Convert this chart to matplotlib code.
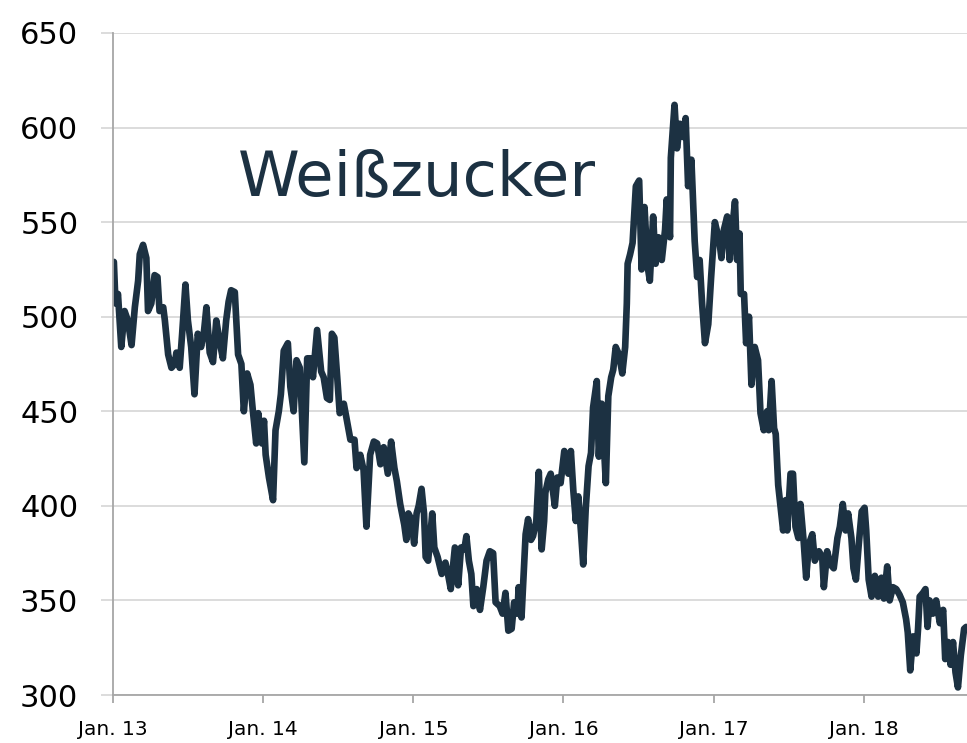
import pandas as pd
import matplotlib
matplotlib.use("Agg")
import matplotlib.pyplot as plt

# Weißzucker price (MM-DD per year)
dates_2013 = ["01-03", "01-07", "01-13", "01-21", "01-29", "02-06", "02-15", "02-23",
              "03-03", "03-07", "03-15", "03-23", "03-27", "04-04", "04-12", "04-19",
              "04-24", "05-03", "05-07", "05-15", "05-23", "05-31", "06-04", "06-12",
              "06-18", "06-26", "07-02", "07-10", "07-18", "07-26", "08-03", "08-10",
              "08-16", "08-24", "09-01", "09-09", "09-17", "09-25", "10-03", "10-09",
              "10-15", "10-24", "11-01", "11-09", "11-15", "11-23", "12-01", "12-07",
              "12-15", "12-20", "12-25", "12-29"]
price_2013 = [529, 507, 512, 484, 503, 498, 485, 505,
              519, 533, 538, 531, 503, 507, 522, 521,
              503, 505, 498, 480, 473, 475, 481, 473,
              491, 517, 498, 484, 459, 491, 484, 492,
              505, 481, 476, 498, 487, 478, 498, 508,
              514, 513, 480, 475, 450, 470, 464, 450,
              433, 449, 440, 433]

dates_2014 = ["01-03", "01-07", "01-15", "01-25", "01-31", "02-08", "02-13", "02-20",
              "03-02", "03-08", "03-16", "03-23", "03-31", "04-05", "04-11", "04-18",
              "04-26", "05-02", "05-12", "05-22", "05-28", "06-05", "06-12", "06-17",
              "06-23", "06-30", "07-06", "07-16", "07-22", "08-01", "08-11", "08-16",
              "08-25", "09-02", "09-09", "09-18", "09-27", "10-05", "10-13", "10-21",
              "10-31", "11-08", "11-16", "11-22", "11-30", "12-10", "12-15", "12-20",
              "12-27"]
price_2014 = [445, 427, 415, 403, 440, 450, 459, 482,
              486, 463, 450, 477, 473, 450, 423, 478,
              478, 468, 493, 471, 468, 457, 456, 491,
              489, 468, 449, 454, 447, 435, 435, 420,
              427, 419, 389, 427, 434, 433, 422, 431,
              417, 434, 420, 413, 401, 390, 382, 396,
              393]

dates_2015 = ["01-03", "01-09", "01-14", "01-21", "01-27", "01-31", "02-06", "02-16",
              "02-21", "03-01", "03-11", "03-20", "03-27", "04-02", "04-12", "04-20",
              "04-27", "05-05", "05-10", "05-16", "05-22", "05-27", "06-04", "06-12",
              "06-20", "06-28", "07-06", "07-14", "07-20", "07-30", "08-06", "08-13",
              "08-20", "08-28", "09-03", "09-11", "09-14", "09-21", "09-25", "10-01",
              "10-07", "10-14", "10-19", "10-27", "11-02", "11-09", "11-15", "11-18",
              "11-25", "12-01", "12-11", "12-17", "12-25"]
price_2015 = [380, 396, 400, 409, 396, 373, 371, 396,
              378, 373, 364, 370, 363, 356, 378, 358,
              378, 377, 384, 371, 364, 347, 356, 345,
              357, 371, 376, 375, 349, 347, 343, 354,
              334, 335, 349, 343, 357, 341, 359, 385,
              393, 382, 384, 392, 418, 377, 392, 407,
              414, 417, 400, 415, 412]

dates_2016 = ["01-03", "01-13", "01-19", "01-25", "01-31", "02-06", "02-13", "02-18",
              "02-24", "03-02", "03-08", "03-13", "03-22", "03-27", "04-03", "04-13",
              "04-19", "04-26", "05-01", "05-07", "05-15", "05-23", "05-30", "06-03",
              "06-05", "06-11", "06-17", "06-25", "07-03", "07-09", "07-16", "07-24",
              "07-29", "08-06", "08-12", "08-19", "08-27", "09-04", "09-08", "09-16",
              "09-18", "09-27", "10-03", "10-10", "10-18", "10-24", "10-30", "11-07",
              "11-15", "11-21", "11-27", "12-03", "12-10", "12-18", "12-25"]
price_2016 = [429, 417, 429, 408, 392, 405, 385, 369,
              398, 421, 428, 452, 466, 426, 454, 412,
              458, 468, 472, 484, 480, 470, 484, 507,
              528, 533, 539, 569, 572, 525, 558, 526,
              519, 553, 528, 542, 530, 546, 562, 542,
              584, 612, 589, 602, 595, 605, 569, 583,
              540, 521, 530, 507, 486, 496, 521]

dates_2017 = ["01-03", "01-14", "01-19", "01-25", "02-02", "02-08", "02-14", "02-21",
              "02-26", "03-04", "03-07", "03-15", "03-20", "03-27", "04-02", "04-10",
              "04-18", "04-24", "05-02", "05-10", "05-14", "05-21", "05-27", "05-31",
              "06-06", "06-12", "06-18", "06-24", "06-28", "07-06", "07-12", "07-18",
              "07-25", "07-30", "08-07", "08-13", "08-20", "08-28", "09-03", "09-13",
              "09-21", "09-25", "10-03", "10-11", "10-19", "10-28", "11-03", "11-10",
              "11-17", "11-23", "12-01", "12-06", "12-12", "12-19", "12-26"]
price_2017 = [550, 540, 531, 546, 553, 530, 546, 561,
              530, 544, 512, 512, 486, 500, 464, 484,
              477, 449, 440, 450, 440, 466, 441, 438,
              411, 399, 387, 403, 387, 417, 417, 389,
              383, 401, 381, 362, 380, 385, 371, 376,
              373, 357, 376, 369, 367, 383, 389, 401,
              387, 396, 383, 367, 361, 380, 397]

dates_2018 = ["01-02", "01-06", "01-12", "01-19", "01-27", "02-04", "02-12", "02-18",
              "02-26", "03-04", "03-12", "03-20", "03-28", "04-05", "04-13", "04-17",
              "04-23", "04-30", "05-08", "05-12", "05-16", "05-24", "05-30", "06-04",
              "06-09", "06-17", "06-25", "07-04", "07-12", "07-17", "07-24", "07-30",
              "08-05", "08-11", "08-17", "08-24", "09-01", "09-06"]
price_2018 = [399, 387, 361, 352, 363, 352, 362, 351,
              368, 350, 357, 356, 353, 349, 340, 333,
              313, 331, 322, 335, 352, 354, 356, 336,
              350, 343, 350, 338, 345, 319, 328, 316,
              328, 312, 304, 321, 335, 336]

years = [2013, 2014, 2015, 2016, 2017, 2018]
year_dates = [dates_2013, dates_2014, dates_2015, dates_2016, dates_2017, dates_2018]
year_prices = [price_2013, price_2014, price_2015, price_2016, price_2017, price_2018]

tick_labels = ["Jan. 13", "Jan. 14", "Jan. 15", "Jan. 16", "Jan. 17", "Jan. 18"]
y_ticks = [300, 350, 400, 450, 500, 550, 600, 650]
title = "Weißzucker"

dates = []
prices = []
for y, ds, ps in zip(years, year_dates, year_prices):
    dates += [pd.Timestamp(f"{y}-{d}") for d in ds]
    prices += ps
s = pd.Series(prices, index=pd.DatetimeIndex(dates))

navy = "#1c3142"

fig = plt.figure(figsize=(9.67, 7.43), dpi=100)
ax = fig.add_axes([0.1169, 0.0646, 0.8831, 0.891])

ax.plot(s.index, s.values, color=navy, lw=4.8, solid_joinstyle="round",
        solid_capstyle="round")

ax.set_xlim(pd.Timestamp("2013-01-01"), pd.Timestamp("2018-09-08"))
ax.set_ylim(300, 650)

ax.set_xticks([pd.Timestamp(f"{y}-01-01") for y in years])
ax.set_xticklabels(tick_labels)
ax.set_yticks(y_ticks)

ax.grid(axis="y", color="#d9d9d9", lw=1.3)
ax.set_axisbelow(True)

for side in ["top", "right"]:
    ax.spines[side].set_visible(False)
for side in ["left", "bottom"]:
    ax.spines[side].set_color("#a6a6a6")
    ax.spines[side].set_linewidth(1.3)

ax.tick_params(axis="y", length=9, width=1.3, color="#d9d9d9", pad=16,
               labelsize=22, labelcolor="black")
ax.tick_params(axis="x", length=6, width=1.3, color="#a6a6a6", pad=12,
               labelsize=14.5, labelcolor="black")

ax.text(0.146, 0.78, title, transform=ax.transAxes, fontsize=45,
        color=navy, ha="left", va="center")

fig.savefig("out.png", dpi=100)
